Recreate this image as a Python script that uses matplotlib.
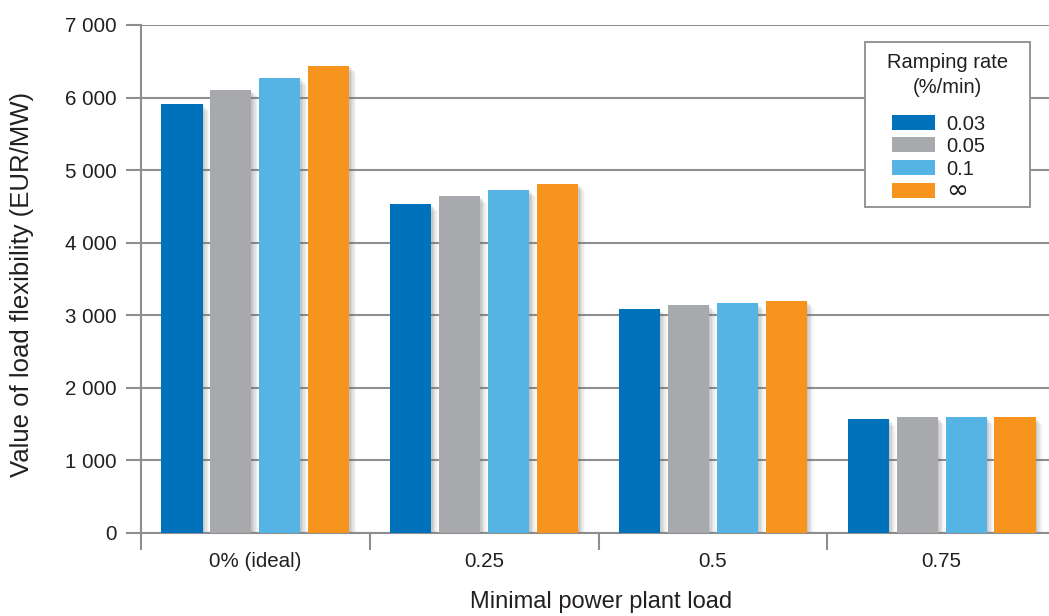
import matplotlib
matplotlib.use("Agg")
import matplotlib.pyplot as plt
import matplotlib.patheffects as pe
from matplotlib.patches import Rectangle
import numpy as np

plt.rcParams['font.family'] = ['Liberation Sans', 'DejaVu Sans']

categories = ["0% (ideal)", "0.25", "0.5", "0.75"]
series_names = ["0.03", "0.05", "0.1", "\u221e"]
values_003 = [5910, 4530, 3090, 1570]
values_005 = [6100, 4640, 3140, 1595]
values_01 = [6270, 4730, 3170, 1595]
values_inf = [6440, 4810, 3200, 1595]
series_values = [values_003, values_005, values_01, values_inf]
colors = ["#0072BC", "#A7A9AC", "#56B4E5", "#F7941D"]
y_ticks = [0, 1000, 2000, 3000, 4000, 5000, 6000, 7000]
y_tick_labels = ["0", "1 000", "2 000", "3 000", "4 000", "5 000", "6 000", "7 000"]
legend_title = "Ramping rate\n(%/min)"

W, H = 1049, 616
fig = plt.figure(figsize=(W / 100, H / 100), dpi=100)
left, right, bottom, top = 141, 1056, 533, 25
ax = fig.add_axes([left / W, 1 - bottom / H, (right - left) / W, (bottom - top) / H])

grid_color = "#8E8E8E"
text_color = "#231F20"

shadow = [pe.SimplePatchShadow(offset=(d, -d), shadow_rgbFace="#707070", alpha=a)
          for d, a in [(5, 0.05), (4, 0.07), (3, 0.09), (2, 0.11), (1, 0.12)]] + [pe.Normal()]

x = np.arange(len(categories))
pitch = 0.214
width = 0.18
for i, (name, vals, c) in enumerate(zip(series_names, series_values, colors)):
    ax.bar(x + (i - 1.5) * pitch, vals, width=width, color=c, label=name, zorder=3,
           path_effects=shadow)

ax.set_xlim(-0.5, len(categories) - 0.5)
ax.set_ylim(0, 7000)

ax.set_yticks(y_ticks)
ax.set_yticklabels(y_tick_labels)
ax.yaxis.grid(True, color=grid_color, linewidth=1.5, zorder=0)
ax.set_axisbelow(True)
ax.tick_params(axis='y', length=11, width=1.5, color=grid_color, labelsize=14.8,
               labelcolor=text_color, pad=6.5)

ax.set_xticks(np.arange(-0.5, len(categories) + 0.5, 1.0))
ax.set_xticklabels([])
ax.set_xticks(x, minor=True)
ax.set_xticklabels(categories, minor=True)
ax.tick_params(axis='x', which='major', length=12, width=1.5, color=grid_color)
ax.tick_params(axis='x', which='minor', length=0, labelsize=14.8, labelcolor=text_color, pad=14)

for s in ['top', 'right']:
    ax.spines[s].set_visible(False)
for s in ['bottom', 'left']:
    ax.spines[s].set_color(grid_color)
    ax.spines[s].set_linewidth(1.5)
ax.spines['left'].set_bounds(0, 7000)

ax.set_ylabel("Value of load flexibility (EUR/MW)", fontsize=18.5, color=text_color)
ax.yaxis.set_label_coords((34 - left) / (right - left), 0.49)
ax.set_xlabel("Minimal power plant load", fontsize=17, color=text_color)
ax.xaxis.set_label_coords((601 - left) / (right - left), (bottom - 591) / (bottom - top))

def fx(px):
    return px / W

def fy(py):
    return 1 - py / H

lx0, ly0, lx1, ly1 = 865, 42, 1030, 207
fig.patches.append(Rectangle((fx(lx0), fy(ly1)), fx(lx1) - fx(lx0), fy(ly0) - fy(ly1),
                             transform=fig.transFigure, facecolor="white",
                             edgecolor="#8E8E8E", linewidth=1.3, zorder=5))
fig.text(fx((lx0 + lx1) / 2), fy(75), legend_title, ha='center', va='center',
         multialignment='center', fontsize=14.5, color=text_color, linespacing=1.35, zorder=6)
row_y0, row_step = 122, 22.7
for i, (name, c) in enumerate(zip(series_names, colors)):
    cy = row_y0 + i * row_step
    fig.patches.append(Rectangle((fx(892), fy(cy + 7.5)), fx(935) - fx(892), fy(cy - 7.5) - fy(cy + 7.5),
                                 transform=fig.transFigure, facecolor=c, edgecolor='none', zorder=6))
    if name == "\u221e":
        fig.text(fx(946), fy(cy + 1), name, ha='left', va='center', fontsize=19,
                 family=['DejaVu Sans'], color=text_color, zorder=6)
    else:
        fig.text(fx(946), fy(cy), name, ha='left', va='center_baseline', fontsize=14.5,
                 color=text_color, zorder=6)

fig.savefig("out.png", dpi=100)
